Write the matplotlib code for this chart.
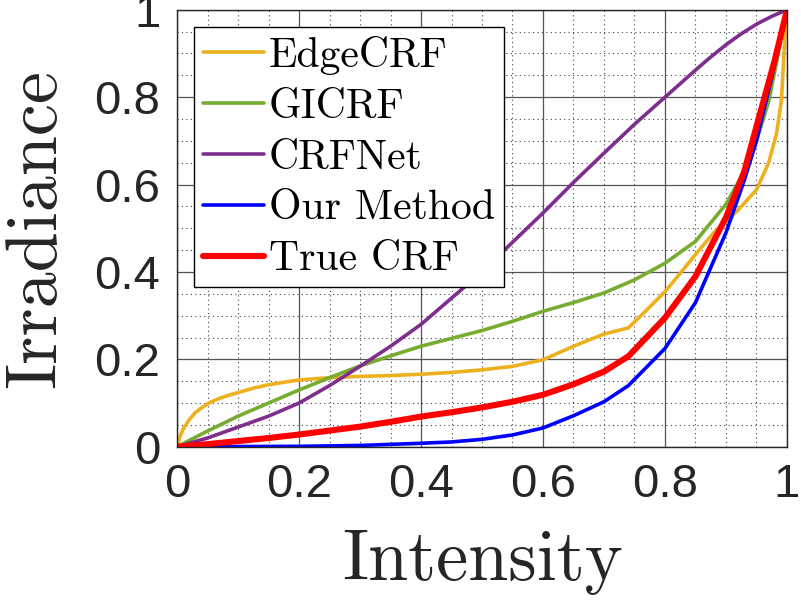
import matplotlib
matplotlib.use("Agg")
import matplotlib.pyplot as plt
import numpy as np

# curves
edge_x = [0, 0.005, 0.01, 0.02, 0.03, 0.043, 0.055, 0.07, 0.085, 0.1, 0.125, 0.15, 0.2,
          0.25, 0.3, 0.35, 0.4, 0.45, 0.5, 0.55, 0.6, 0.65, 0.7, 0.74, 0.77, 0.8, 0.825,
          0.85, 0.88, 0.92, 0.95, 0.97, 0.983, 0.991, 0.997, 1.0]
edge_y = [0, 0.024, 0.04, 0.062, 0.078, 0.092, 0.102, 0.111, 0.118, 0.124, 0.134, 0.142,
          0.153, 0.158, 0.161, 0.163, 0.166, 0.170, 0.176, 0.184, 0.199, 0.23, 0.258,
          0.272, 0.313, 0.355, 0.397, 0.44, 0.49, 0.542, 0.588, 0.65, 0.718, 0.794, 0.947,
          1.0]

gi_x = [0, 0.05, 0.1, 0.15, 0.2, 0.25, 0.3, 0.35, 0.4, 0.45, 0.5, 0.55, 0.6, 0.65, 0.7,
        0.75, 0.8, 0.85, 0.9, 0.93, 0.95, 0.97, 1.0]
gi_y = [0, 0.036, 0.07, 0.10, 0.13, 0.158, 0.185, 0.208, 0.23, 0.248, 0.266, 0.287, 0.31,
        0.33, 0.352, 0.382, 0.42, 0.47, 0.555, 0.63, 0.70, 0.79, 1.0]

net_x = [0, 0.05, 0.1, 0.15, 0.2, 0.25, 0.3, 0.35, 0.4, 0.45, 0.5, 0.55, 0.6, 0.65, 0.7,
         0.75, 0.8, 0.85, 0.875, 0.9, 0.925, 0.95, 0.975, 1.0]
net_y = [0, 0.02, 0.045, 0.07, 0.10, 0.14, 0.184, 0.23, 0.28, 0.34, 0.40, 0.468, 0.535,
         0.605, 0.672, 0.738, 0.80, 0.862, 0.892, 0.92, 0.945, 0.967, 0.985, 1.0]

ours_x = [0, 0.1, 0.2, 0.3, 0.4, 0.45, 0.5, 0.55, 0.6, 0.65, 0.7, 0.74, 0.8, 0.85, 0.9,
          0.93, 0.95, 0.975, 1.0]
ours_y = [0, 0.0005, 0.001, 0.003, 0.008, 0.011, 0.017, 0.027, 0.043, 0.071, 0.103, 0.14,
          0.225, 0.33, 0.49, 0.61, 0.70, 0.845, 1.0]

true_x = [0, 0.05, 0.1, 0.15, 0.2, 0.25, 0.3, 0.35, 0.4, 0.45, 0.5, 0.55, 0.6, 0.65, 0.7,
          0.74, 0.8, 0.85, 0.9, 0.93, 0.95, 0.98, 1.0]
true_y = [0, 0.006, 0.013, 0.02, 0.028, 0.037, 0.046, 0.057, 0.069, 0.079, 0.09, 0.103,
          0.119, 0.143, 0.172, 0.207, 0.295, 0.39, 0.525, 0.63, 0.733, 0.885, 1.0]

labels = ['EdgeCRF', 'GICRF', 'CRFNet', 'Our Method', 'True CRF']
colors = ['#EDB120', '#77AC30', '#7E2F8E', '#0000FF', '#FF0000']
tick_vals = [0, 0.2, 0.4, 0.6, 0.8, 1]
tick_labels = ['0', '0.2', '0.4', '0.6', '0.8', '1']

fig = plt.figure(figsize=(8.01, 6.12), dpi=100)
ax = fig.add_axes([0.221, 0.27, 0.7615, 0.714])

series = [(edge_x, edge_y), (gi_x, gi_y), (net_x, net_y), (ours_x, ours_y), (true_x, true_y)]
for (xs, ys), lab, col in zip(series, labels, colors):
    lw = 4.4 if lab == 'True CRF' else 2.6
    ax.plot(xs, ys, color=col, linewidth=lw, label=lab,
            solid_capstyle='round', solid_joinstyle='round')

ax.set_xlim(0, 1)
ax.set_ylim(0, 1)
ax.set_xticks(tick_vals)
ax.set_xticklabels(tick_labels)
ax.set_yticks(tick_vals)
ax.set_yticklabels(tick_labels)
ax.set_xticks(np.arange(0, 1.001, 0.05), minor=True)
ax.set_yticks(np.arange(0, 1.001, 0.05), minor=True)
ax.grid(True, which='major', color='#555555', linewidth=0.9)
ax.grid(True, which='minor', color='#444444', linestyle=(0, (1, 3)), linewidth=0.8)
ax.set_axisbelow(True)
ax.tick_params(which='both', length=0)
ax.tick_params(axis='both', labelsize=34, labelcolor='#262626', pad=12)
for t in ax.get_xticklabels() + ax.get_yticklabels():
    t.set_fontfamily('Liberation Sans')
for s in ax.spines.values():
    s.set_color('#262626')
    s.set_linewidth(1.0)

ax.set_xlabel('Intensity', fontsize=52, fontname='cmr10', color='#262626', labelpad=16)
ax.set_ylabel('Irradiance', fontsize=52, fontname='cmr10', color='#262626', labelpad=18)

leg = ax.legend(loc='upper left', bbox_to_anchor=(0.028, 0.961), borderaxespad=0,
                prop={'family': 'cmr10', 'size': 30}, frameon=True, fancybox=False,
                edgecolor='black', framealpha=1, handlelength=1.45, handletextpad=0.12,
                labelspacing=0.32, borderpad=0.22)
leg.get_frame().set_linewidth(1.0)

fig.savefig('out.png', dpi=100)
